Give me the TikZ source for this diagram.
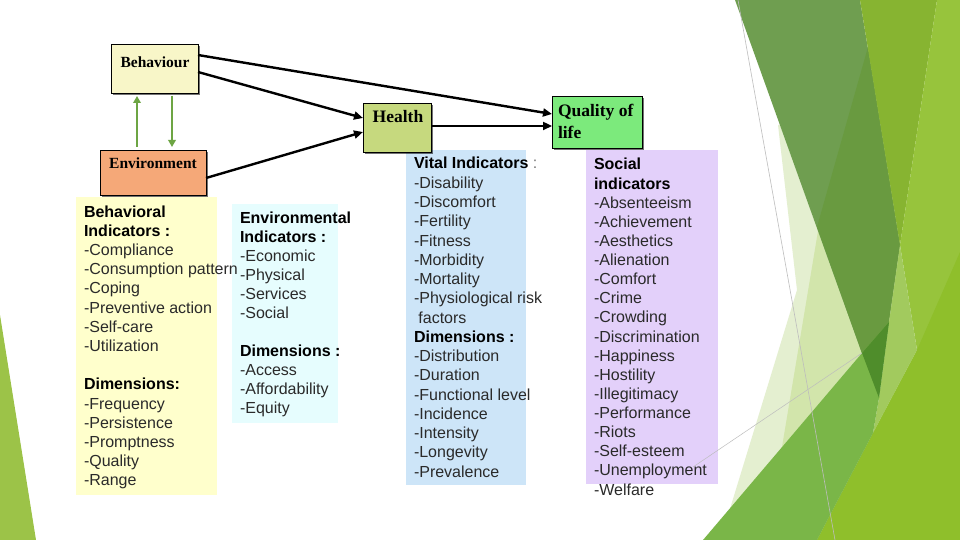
\documentclass[tikz,border=0pt]{standalone}
\usepackage{fontspec}
\setmainfont{Liberation Sans}
\newfontfamily\lserif{Liberation Serif}
\usetikzlibrary{arrows.meta,shadows}
\definecolor{txtc}{HTML}{2A2A2A}
\definecolor{colgray}{HTML}{777777}
\definecolor{behfill}{HTML}{F8F6C8}
\definecolor{heafill}{HTML}{C6D97E}
\definecolor{qolfill}{HTML}{7CEA7C}
\definecolor{envfill}{HTML}{F5A878}
\definecolor{yelpan}{HTML}{FFFFCC}
\definecolor{cyanpan}{HTML}{E6FDFE}
\definecolor{bluepan}{HTML}{CDE5F8}
\definecolor{purppan}{HTML}{E3D0FA}
\definecolor{arrowg}{HTML}{6DA544}
\definecolor{bgleft}{HTML}{9CC348}
\definecolor{bgpale}{HTML}{E4EFD0}
\definecolor{bgpale2}{HTML}{D2E5AB}
\definecolor{bgband}{HTML}{6F9E50}
\definecolor{bgband2}{HTML}{699A40}
\definecolor{bgolive}{HTML}{87B431}
\definecolor{bglime}{HTML}{97C43C}
\definecolor{bglime2}{HTML}{8FBF2B}
\definecolor{bgstrip}{HTML}{A2CA5E}
\definecolor{bgmed}{HTML}{7AB648}
\definecolor{bgdark}{HTML}{4F8D2B}
\definecolor{bgline}{HTML}{BDBDBD}
\begin{document}
\begin{tikzpicture}[x=1pt,y=-1pt,
  txt/.style={anchor=base west, inner sep=0, outer sep=0, font=\fontsize{16}{19.2}\selectfont, text=txtc},
  lab/.style={inner sep=0, outer sep=0, anchor=base, font=\lserif\bfseries\fontsize{15.5}{18}\selectfont, text=black},
  biglab/.style={lab, font=\lserif\bfseries\fontsize{17.5}{20}\selectfont},
  boxn/.style={draw=black, line width=0.8pt, anchor=north west, inner sep=0, outer sep=0,
    drop shadow={shadow xshift=2pt, shadow yshift=-2pt, opacity=0.55, fill=black}},
  panel/.style={anchor=north west, inner sep=0, outer sep=0},
  blk/.style={line width=2.4pt, -{Triangle[length=9pt,width=8pt]}},
  grn/.style={line width=2.8pt, draw=arrowg, -{Triangle[length=7pt,width=7.5pt]}, fill=arrowg, shorten >=3pt, shorten <=3pt}]
\useasboundingbox (0,0) rectangle (960,540);
\fill[white] (0,0) rectangle (960,540);
% ---- background facets ----
\fill[bgleft] (0,315) -- (36,540) -- (0,540) -- cycle;
\fill[bgpale] (778,125) -- (780,125) -- (862,353) -- (729,512) -- (797,290) -- cycle;
\fill[bgpale2] (818,231) -- (862,353) -- (782,447) -- cycle;
\fill[bgband] (735,0) -- (860,0) -- (900,245) -- (878,398) -- cycle;
\fill[bgband2] (868,47) -- (900,245) -- (878,398) -- (817,227) -- cycle;
\fill[bgolive] (860,0) -- (937,0) -- (900,245) -- cycle;
\fill[bglime] (937,0) -- (960,0) -- (960,540) -- (817,540) -- (873,433) -- (917,350) -- (900,245) -- cycle;
\fill[bglime2] (960,252) -- (960,540) -- (817,540) -- (873,433) -- (917,350) -- cycle;
\fill[bgstrip] (900,245) -- (917,350) -- (873,433) -- (879,398) -- (889,322) -- cycle;
\fill[bgmed] (703,540) -- (862,353) -- (889,322) -- (879,398) -- (873,433) -- (817,540) -- cycle;
\fill[bgdark] (862,353) -- (889,322) -- (879,398) -- cycle;
\draw[bgline, line width=0.6pt] (738,0) -- (835,540);
% ---- panels ----
\node[panel, fill=yelpan, minimum width=141, minimum height=298] (ypan) at (76,197) {};
\node[panel, fill=cyanpan, minimum width=106, minimum height=219] (cpan) at (232,204) {};
\node[panel, fill=bluepan, minimum width=120, minimum height=335] (bpan) at (406,150) {};
\node[panel, fill=purppan, minimum width=132, minimum height=334] (ppan) at (586,150) {};
\draw[bgline, line width=0.5pt] (862,353) -- (693,467);
% ---- boxes ----
\node[boxn, fill=behfill, minimum width=87, minimum height=49] (beh) at (111,44) {};
\node[boxn, fill=envfill, minimum width=106, minimum height=45] (env) at (100,150) {};
\node[boxn, fill=heafill, minimum width=68, minimum height=49] (hea) at (363,103) {};
\node[boxn, fill=qolfill, minimum width=90, minimum height=52] (qol) at (552,96) {};
\node[lab] (behl) at (155,68) {Behaviour};
\node[lab] (envl) at (153,169) {Environment};
\node[biglab] (heal) at (398,123) {Health};
\node[biglab, anchor=base west] (qoll1) at (558,117) {Quality of};
\node[biglab, anchor=base west] (qoll2) at (558,139) {life};
% ---- arrows ----
\draw[grn] (env.north -| 137,0) -- (beh.south -| 137,0);
\draw[grn] (beh.south -| 172,0) -- (env.north -| 172,0);
\draw[blk] (beh.east |- 0,55) -- (qol.west |- 0,114);
\draw[blk] (beh.east |- 0,72) -- (hea.west |- 0,118);
\draw[blk] (env.east |- 0,178) -- (hea.west |- 0,132);
\draw[blk] (hea.east |- 0,126) -- (qol.west |- 0,126);
% ---- texts ----
\foreach \k/\t in {0/\textbf{\color{black}Behavioral}, 1/\textbf{\color{black}Indicators :}, 2/-Compliance, 3/-Consumption pattern, 4/-Coping, 5/-Preventive action, 6/-Self-care, 7/-Utilization, 9/\textbf{\color{black}Dimensions:}, 10/-Frequency, 11/-Persistence, 12/-Promptness, 13/-Quality, 14/-Range}
  \node[txt] (y\k) at (84,{217+19.2*\k}) {\t};
\foreach \k/\t in {0/\textbf{\color{black}Environmental}, 1/\textbf{\color{black}Indicators :}, 2/-Economic, 3/-Physical, 4/-Services, 5/-Social, 7/\textbf{\color{black}Dimensions :}, 8/-Access, 9/-Affordability, 10/-Equity}
  \node[txt] (c\k) at (240,{223+19.05*\k}) {\t};
\foreach \k/\t in {0/{\textbf{\color{black}Vital Indicators}\hspace{4.5pt}\textcolor{colgray}{:}}, 1/-Disability, 2/-Discomfort, 3/-Fertility, 4/-Fitness, 5/-Morbidity, 6/-Mortality, 7/-Physiological risk, 8/\ factors, 9/\textbf{\color{black}Dimensions :}, 10/-Distribution, 11/-Duration, 12/-Functional level, 13/-Incidence, 14/-Intensity, 15/-Longevity, 16/-Prevalence}
  \node[txt] (v\k) at (414,{169+19.25*\k}) {\t};
\foreach \k/\t in {0/\textbf{\color{black}Social}, 1/\textbf{\color{black}indicators}, 2/-Absenteeism, 3/-Achievement, 4/-Aesthetics, 5/-Alienation, 6/-Comfort, 7/-Crime, 8/-Crowding, 9/-Discrimination, 10/-Happiness, 11/-Hostility, 12/-Illegitimacy, 13/-Performance, 14/-Riots, 15/-Self-esteem, 16/-Unemployment, 17/-Welfare}
  \node[txt] (s\k) at (594,{170+19.12*\k}) {\t};
\end{tikzpicture}
\end{document}
